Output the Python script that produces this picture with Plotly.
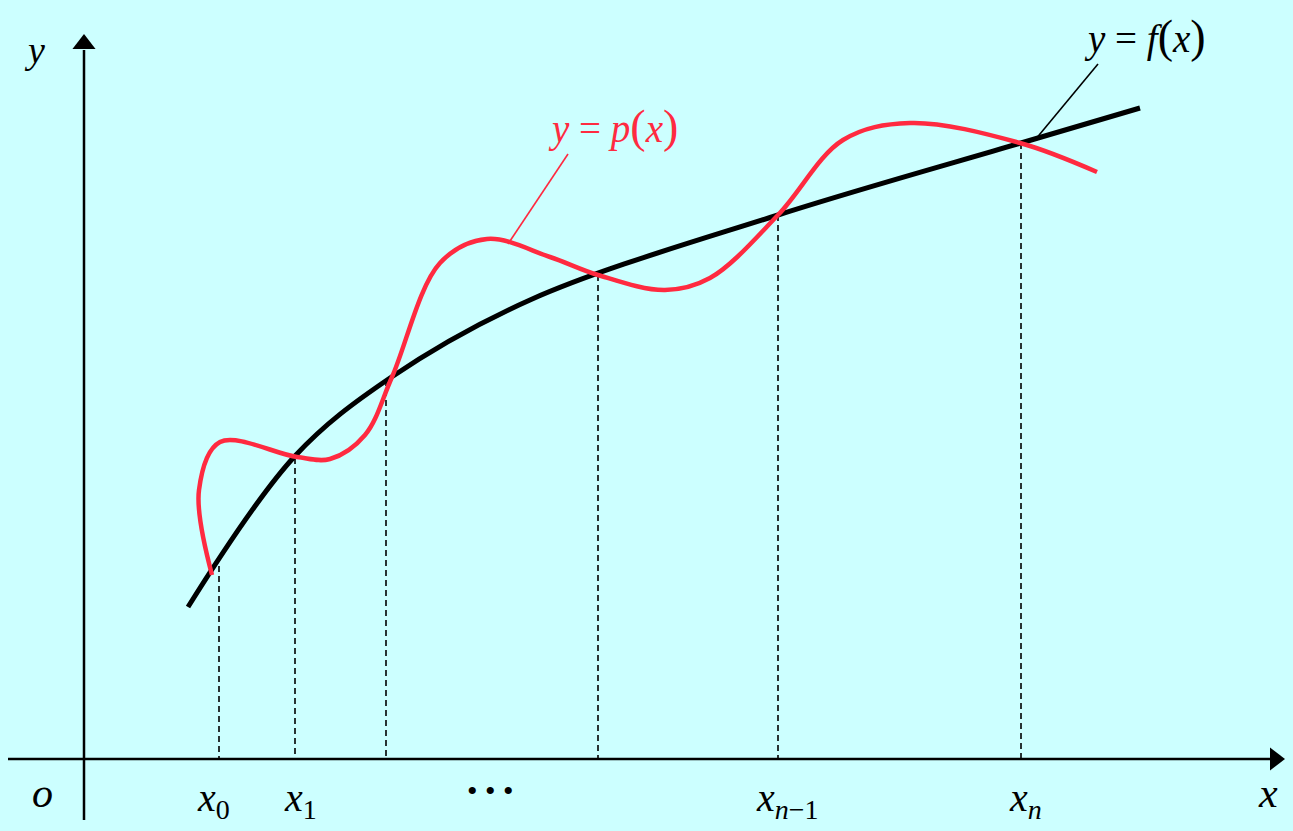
import plotly.graph_objects as go

# Diagram coordinates (pixel-like units, y downward)
f_x = [188, 295, 390, 530, 778, 1021, 1140]
f_y = [607, 456, 378, 300, 215, 143, 108]

p_x = [212, 199, 220, 297, 330, 365, 392, 440, 487, 550, 598, 665, 710, 778, 843, 910, 1020, 1097]
p_y = [575, 490, 442, 457, 459, 435, 377, 263, 239, 257, 275, 290, 278, 215, 140, 123, 143, 172]

node_x = [219, 295, 386, 598, 778, 1021]
node_y = [566, 458, 380, 275, 215, 143]
axis_y0 = 759

node_labels = ["<i>x</i><sub>0</sub>", "<i>x</i><sub>1</sub>", "<i>x</i><sub><i>n</i>−1</sub>", "<i>x</i><sub><i>n</i></sub>"]
node_label_x = [213, 300, 787, 1025]

BG = "#CCFFFF"
RED = "#FF2A40"
FONT = "Liberation Serif, Times New Roman, serif"

fig = go.Figure()

# axes
fig.add_trace(go.Scatter(x=[8, 1272], y=[axis_y0, axis_y0], mode="lines",
                         line=dict(color="black", width=2.5), hoverinfo="skip"))
fig.add_trace(go.Scatter(x=[84, 84], y=[820, 50], mode="lines",
                         line=dict(color="black", width=2.5), hoverinfo="skip"))
fig.add_trace(go.Scatter(x=[1275], y=[axis_y0], mode="markers",
                         marker=dict(symbol="triangle-right", size=20, color="black"), hoverinfo="skip"))
fig.add_trace(go.Scatter(x=[84], y=[44], mode="markers",
                         marker=dict(symbol="triangle-up", size=20, color="black"), hoverinfo="skip"))

# dashed verticals
for nx, ny in zip(node_x, node_y):
    fig.add_trace(go.Scatter(x=[nx, nx], y=[ny, axis_y0], mode="lines",
                             line=dict(color="black", width=1.6, dash="6px,4px"), hoverinfo="skip"))

# f(x)
fig.add_trace(go.Scatter(x=f_x, y=f_y, mode="lines",
                         line=dict(color="black", width=5, shape="spline", smoothing=1.0), hoverinfo="skip"))
# p(x)
fig.add_trace(go.Scatter(x=p_x, y=p_y, mode="lines",
                         line=dict(color=RED, width=4.5, shape="spline", smoothing=1.0), hoverinfo="skip"))

# leader lines
fig.add_trace(go.Scatter(x=[1035, 1098], y=[140, 64], mode="lines",
                         line=dict(color="black", width=1.6), hoverinfo="skip"))
fig.add_trace(go.Scatter(x=[508, 568], y=[244, 154], mode="lines",
                         line=dict(color=RED, width=1.6), hoverinfo="skip"))

def txt(x, y, s, size=36, color="black"):
    fig.add_annotation(x=x, y=y, text=s, showarrow=False, xref="x", yref="y",
                       font=dict(family=FONT, size=size, color=color))

LP = '<span style="font-size:46px">(</span>'
RP = '<span style="font-size:46px">)</span>'
txt(1145, 36, "<i>y</i> = <i>f</i>" + LP + "<i>x</i>" + RP, 39)
txt(613, 126, "<i>y</i> = <i>p</i>" + LP + "<i>x</i>" + RP, 39, RED)
txt(34, 50, "<i>y</i>", 38)
txt(42, 793, "<i>o</i>", 42)
txt(1268, 793, "<i>x</i>", 42)
for lx, lab in zip(node_label_x, node_labels):
    txt(lx, 800, lab, 40)
txt(490, 790, "• • •", 30)

fig.update_layout(
    width=1293, height=831,
    margin=dict(l=0, r=0, t=0, b=0),
    paper_bgcolor=BG, plot_bgcolor=BG,
    showlegend=False,
    xaxis=dict(range=[0, 1293], visible=False, fixedrange=True),
    yaxis=dict(range=[831, 0], visible=False, fixedrange=True),
)

fig.write_html("out.html", config={"displayModeBar": False},
               post_script="document.body.style.margin='0';document.body.style.overflow='hidden';")
